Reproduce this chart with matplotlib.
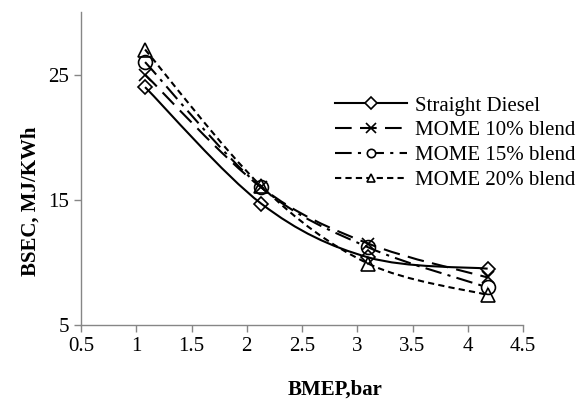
import numpy as np
import matplotlib
matplotlib.use("Agg")
import matplotlib.pyplot as plt
from matplotlib.path import Path
from matplotlib.patches import PathPatch
from matplotlib.lines import Line2D

plt.rcParams['font.family'] = ['Liberation Serif', 'DejaVu Serif']

# data
bmep = [1.08, 2.13, 3.10, 4.18]
diesel = [24.0, 14.7, 10.4, 9.5]
mome10 = [25.0, 16.0, 11.5, 8.8]
mome15 = [26.0, 16.0, 11.2, 8.0]
mome20 = [27.0, 16.1, 9.9, 7.4]

labels = ['Straight Diesel', 'MOME 10% blend', 'MOME 15% blend', 'MOME 20% blend']
markers = ['D', 'x', 'o', '^']
msizes = [7, 9, 10, 9.5]
dashes = [None, (8, 4), (8, 3, 1.5, 3), (3, 2)]


def smooth_path(xs, ys):
    # catmull-rom style bezier, like excel's smoothed line
    pts = np.column_stack([xs, ys])
    n = len(pts)
    verts = [pts[0]]
    codes = [Path.MOVETO]
    for i in range(n - 1):
        p0 = pts[max(i - 1, 0)]
        p1 = pts[i]
        p2 = pts[i + 1]
        p3 = pts[min(i + 2, n - 1)]
        c1 = p1 + (p2 - p0) / 6.0
        c2 = p2 - (p3 - p1) / 6.0
        verts += [c1, c2, p2]
        codes += [Path.CURVE4] * 3
    return Path(verts, codes)


fig = plt.figure(figsize=(5.88, 4.03), dpi=100)
ax = fig.add_axes([81 / 588, 78 / 403, 442 / 588, 313 / 403])

series = [diesel, mome10, mome15, mome20]
handles = []
for ys, lab, mk, ms, ds in zip(series, labels, markers, msizes, dashes):
    ls = '-' if ds is None else (0, ds)
    patch = PathPatch(smooth_path(bmep, ys), facecolor='none', edgecolor='black',
                      linewidth=1.5, linestyle=ls)
    ax.add_patch(patch)
    ax.plot(bmep, ys, linestyle='none', marker=mk, markersize=ms,
            markerfacecolor='none', markeredgecolor='black', markeredgewidth=1.2)
    handles.append(Line2D([], [], color='black', linewidth=1.5, linestyle=ls,
                          marker=mk, markersize=6 if mk != 'x' else 7,
                          markerfacecolor='white', markeredgecolor='black',
                          markeredgewidth=1.2, label=lab))

ax.set_xlim(0.5, 4.5)
ax.set_ylim(5, 30)
ax.set_xticks(np.arange(0.5, 4.51, 0.5))
ax.set_xticklabels(['0.5', '1', '1.5', '2', '2.5', '3', '3.5', '4', '4.5'])
ax.set_yticks([5, 15, 25])

for s in ['top', 'right']:
    ax.spines[s].set_visible(False)
for s in ['left', 'bottom']:
    ax.spines[s].set_color('#868686')
    ax.spines[s].set_linewidth(1.0)
ax.tick_params(colors='#868686', labelcolor='black', labelsize=15, length=5, width=1.0)

ax.set_xlabel('BMEP,bar', fontsize=15, fontweight='bold')
ax.xaxis.set_label_coords(0.574, -0.176)
ax.set_ylabel('BSEC, MJ/KWh', fontsize=15, fontweight='bold', va='center')
ax.yaxis.set_label_coords(-0.115, 0.396)

ax.legend(handles=handles, loc='upper left', bbox_to_anchor=(0.555, 0.758),
          frameon=False, fontsize=15, handlelength=3.45, handletextpad=0.4,
          labelspacing=0.25, borderaxespad=0)

fig.savefig('out.png', dpi=100)
